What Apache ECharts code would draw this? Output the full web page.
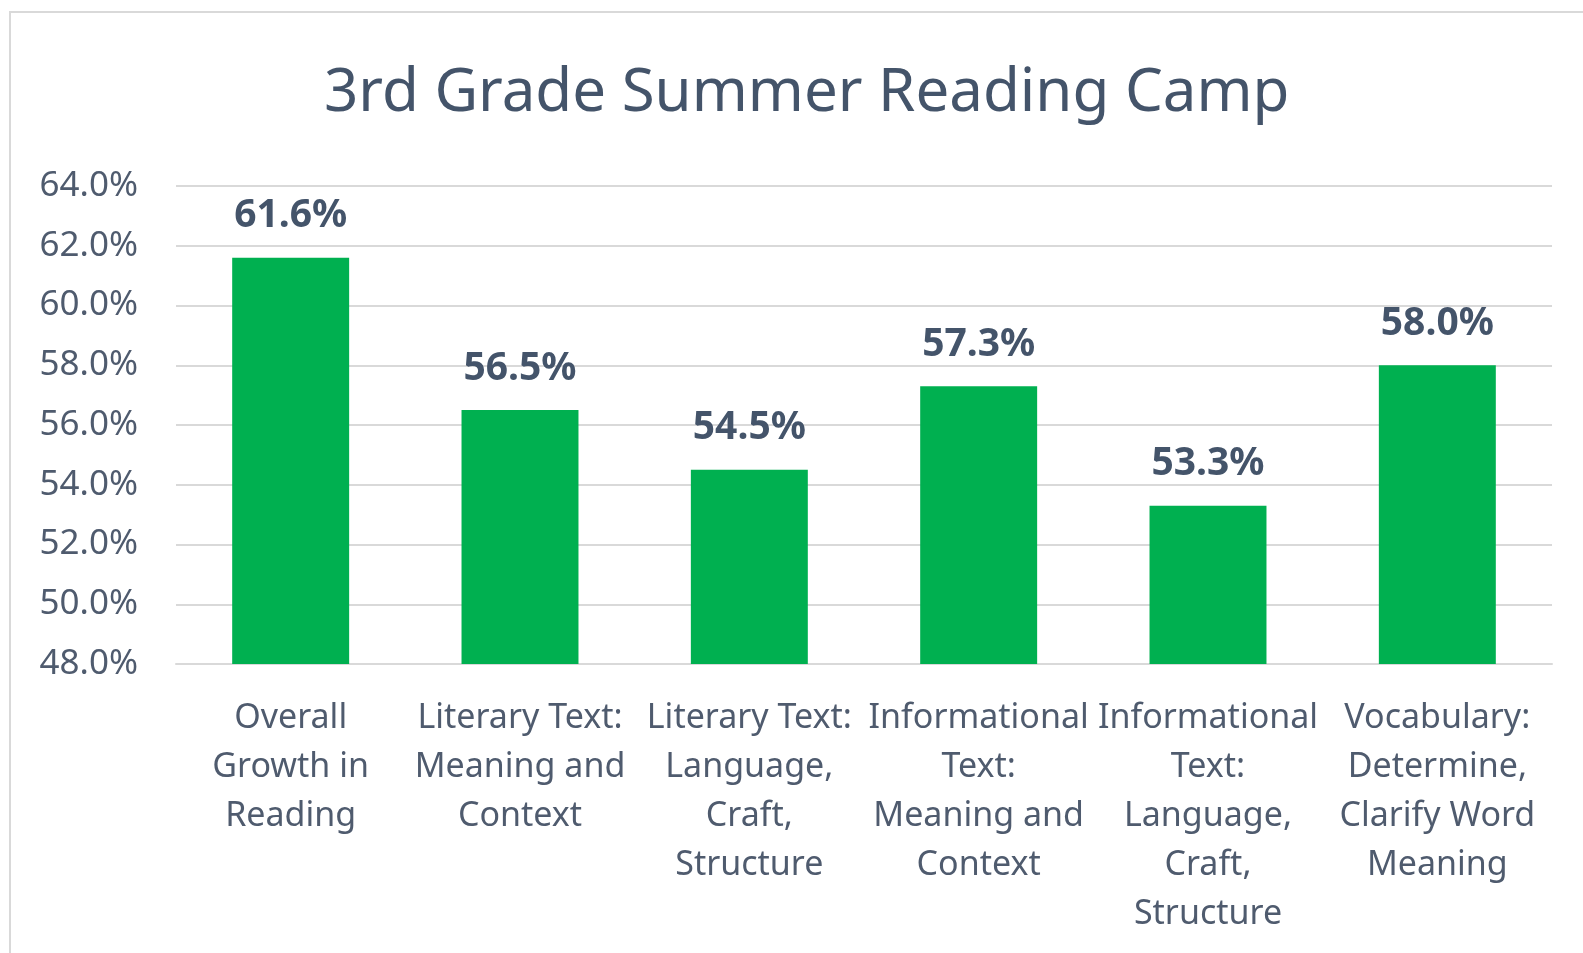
<!DOCTYPE html>
<html>
<head>
<meta charset="utf-8">
<title>3rd Grade Summer Reading Camp</title>
<script src="https://cdn.jsdelivr.net/npm/echarts@6/dist/echarts.min.js"></script>
<style>
    html, body { margin: 0; padding: 0; background: #fff; }
    #main { width: 1583px; height: 953px; }
</style>
</head>
<body>
<div id="main"></div>
<script>
// chart data
var categories = [
    "Overall\nGrowth in\nReading",
    "Literary Text:\nMeaning and\nContext",
    "Literary Text:\nLanguage,\nCraft,\nStructure",
    "Informational\nText:\nMeaning and\nContext",
    "Informational\nText:\nLanguage,\nCraft,\nStructure",
    "Vocabulary:\nDetermine,\nClarify Word\nMeaning"
];
var scores = [61.6, 56.5, 54.5, 57.3, 53.3, 58.0];
var yTicks = [48, 64, 2];   // min, max, step

var textColor = '#44546A';
var fontName = '"Noto Sans", "Open Sans", sans-serif';

var myChart = echarts.init(document.getElementById('main'));

var option = {
    backgroundColor: '#fff',
    graphic: [{
        type: 'rect',
        shape: { x: 10, y: 12, width: 1640, height: 1000 },
        style: { fill: 'none', stroke: '#D9D9D9', lineWidth: 2 },
        silent: true
    }],
    title: {
        text: '3rd Grade Summer Reading Camp',
        left: 324,
        top: 64,
        padding: 0,
        textStyle: {
            color: textColor,
            fontFamily: fontName,
            fontWeight: 'normal',
            fontSize: 60
        }
    },
    grid: {
        left: 176,
        right: 31,
        top: 186,
        bottom: 289,
        outerBoundsMode: 'none'
    },
    xAxis: {
        type: 'category',
        data: categories,
        axisLine: { lineStyle: { color: '#D9D9D9', width: 2 } },
        axisTick: { show: false },
        axisLabel: {
            interval: 0,
            margin: 30,
            color: '#4F5B6E',
            fontFamily: fontName,
            fontSize: 34,
            lineHeight: 49,
            align: 'center'
        }
    },
    yAxis: {
        type: 'value',
        min: yTicks[0],
        max: yTicks[1],
        interval: yTicks[2],
        axisLine: { show: false },
        axisTick: { show: false },
        splitLine: { lineStyle: { color: '#D9D9D9', width: 2 } },
        axisLabel: {
            margin: 38,
            color: '#4F5B6E',
            fontFamily: fontName,
            fontSize: 35,
            formatter: function (val) {
                return val.toFixed(1) + '%';
            }
        }
    },
    series: [{
        type: 'bar',
        data: scores,
        barWidth: '51%',
        itemStyle: { color: '#00B050' },
        label: {
            show: true,
            position: 'top',
            distance: 22,
            color: textColor,
            fontFamily: fontName,
            fontWeight: 'bold',
            fontSize: 39,
            formatter: function (p) {
                return p.value.toFixed(1) + '%';
            }
        }
    }]
};

myChart.setOption(option);
</script>
</body>
</html>
